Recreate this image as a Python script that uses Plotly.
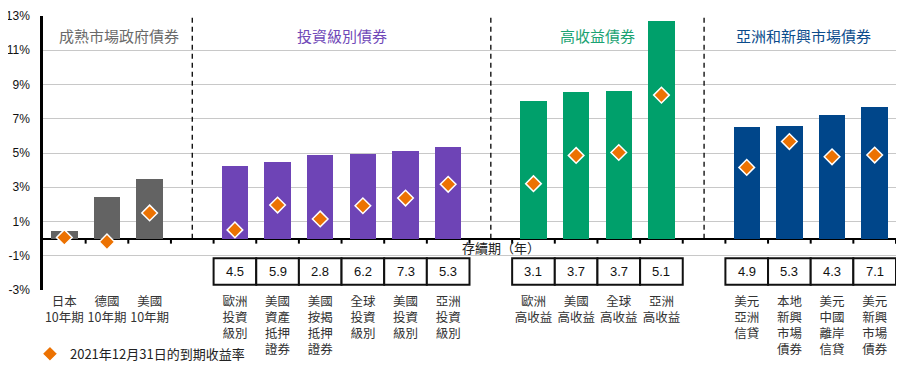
import plotly.graph_objects as go

# ---------------- data ----------------
group_titles = ["成熟市場政府債券", "投資級別債券", "高收益債券", "亞洲和新興市場債券"]
group_colors = ["#636363", "#6E44B6", "#00A06B", "#00468A"]
title_colors = ["#6A6A6A", "#7049B8", "#1AA372", "#0B4C8C"]

dm_labels = ["日本<br>10年期", "德國<br>10年期", "美國<br>10年期"]
dm_bars = [0.42, 2.41, 3.50]
dm_ytm = [0.07, -0.19, 1.50]
dm_duration = []

ig_labels = ["歐洲<br>投資<br>級別", "美國<br>資產<br>抵押<br>證券", "美國<br>按揭<br>抵押<br>證券",
             "全球<br>投資<br>級別", "美國<br>投資<br>級別", "亞洲<br>投資<br>級別"]
ig_bars = [4.22, 4.49, 4.90, 4.97, 5.13, 5.36]
ig_ytm = [0.51, 1.96, 1.15, 1.92, 2.37, 3.17]
ig_duration = ["4.5", "5.9", "2.8", "6.2", "7.3", "5.3"]

hy_labels = ["歐洲<br>高收益", "美國<br>高收益", "全球<br>高收益", "亞洲<br>高收益"]
hy_bars = [8.05, 8.57, 8.63, 12.71]
hy_ytm = [3.21, 4.86, 5.03, 8.38]
hy_duration = ["3.1", "3.7", "3.7", "5.1"]

em_labels = ["美元<br>亞洲<br>信貸", "本地<br>新興<br>市場<br>債券", "美元<br>中國<br>離岸<br>信貸", "美元<br>新興<br>市場<br>債券"]
em_bars = [6.53, 6.59, 7.23, 7.70]
em_ytm = [4.16, 5.67, 4.78, 4.88]
em_duration = ["4.9", "5.3", "4.3", "7.1"]

y_ticks = [-3, -1, 1, 3, 5, 7, 9, 11, 13]
y_tick_text = ["-3%", "-1%", "1%", "3%", "5%", "7%", "9%", "11%", "13%"]
legend_name = "2021年12月31日的到期收益率"
duration_title = "存續期（年）"

groups = [
    (dm_labels, dm_bars, dm_ytm, dm_duration),
    (ig_labels, ig_bars, ig_ytm, ig_duration),
    (hy_labels, hy_bars, hy_ytm, hy_duration),
    (em_labels, em_bars, em_ytm, em_duration),
]

# ---------------- build positions ----------------
xs, labels, bars, ytm, colors = [], [], [], [], []
gaps = []
boxes = []
pos = 0
for gi, (lab, bv, yv, dur) in enumerate(groups):
    for i in range(len(lab)):
        xs.append(pos)
        labels.append(lab[i])
        bars.append(bv[i])
        ytm.append(yv[i])
        colors.append(group_colors[gi])
        if dur:
            boxes.append((pos, dur[i]))
        pos += 1
    if gi < len(groups) - 1:
        gaps.append(pos)
        pos += 1
n_slots = pos

CJK = "Noto Sans CJK TC"

fig = go.Figure()
fig.add_trace(go.Bar(x=xs, y=bars, width=0.62, marker=dict(color=colors, line=dict(width=0)),
                     showlegend=False, hoverinfo="skip"))
fig.add_trace(go.Scatter(x=xs, y=ytm, mode="markers", name=legend_name,
                         marker=dict(symbol="diamond", size=12, color="#EC7202",
                                     line=dict(color="white", width=1.5)),
                         showlegend=True))

shapes = []
# dashed separators
for g in gaps:
    shapes.append(dict(type="line", xref="x", yref="y", x0=g, x1=g, y0=0, y1=13,
                       line=dict(color="black", width=1.3, dash="5px,4px")))
# tick marks under zero line at slot boundaries
for k in range(1, n_slots + 1):
    shapes.append(dict(type="line", xref="x", yref="y", x0=k - 0.5, x1=k - 0.5,
                       ysizemode="pixel", yanchor=0, y0=0, y1=-5,
                       line=dict(color="black", width=2)))
# duration boxes
annotations = []
for (p, d) in boxes:
    shapes.append(dict(type="rect", xref="x", yref="y", x0=p - 0.5, x1=p + 0.5, y0=-2.7, y1=-1.15,
                       line=dict(color="#111", width=2), fillcolor="white", layer="above"))
    annotations.append(dict(x=p, y=-1.93, xref="x", yref="y", text=d, showarrow=False,
                            font=dict(family="Liberation Sans", size=13, color="#111")))

# group titles
title_x = [1.28, 6.51, 12.49, 17.32]
for gi, t in enumerate(group_titles):
    annotations.append(dict(x=title_x[gi], y=11.84, xref="x", yref="y", text=t, showarrow=False,
                            font=dict(family=CJK, size=15, color=title_colors[gi])))

annotations.append(dict(x=10.24, y=-0.5, xref="x", yref="y", text=duration_title, showarrow=False,
                        font=dict(family=CJK, size=13, color="#222")))

# page body has an 8px default margin; size the figure so that the visible frame is 909x365
fig.update_layout(
    width=901, height=357,
    margin=dict(l=35, r=13, t=8, b=75, autoexpand=False),
    plot_bgcolor="white", paper_bgcolor="white",
    font=dict(family=CJK, color="#333"),
    shapes=shapes, annotations=annotations,
    legend=dict(orientation="h", x=-0.0153, xanchor="left", y=-0.233, yanchor="middle",
                font=dict(family=CJK, size=13, color="#222"), bgcolor="rgba(0,0,0,0)"),
    bargap=0,
)
fig.update_xaxes(range=[-0.5, n_slots - 0.5], tickmode="array", tickvals=xs, ticktext=labels,
                 showgrid=False, zeroline=False, showline=False, ticks="",
                 ticklabelstandoff=2,
                 tickfont=dict(family=CJK, size=12.5, color="#333"), tickangle=0)
fig.update_yaxes(range=[-3, 13], tickmode="array", tickvals=y_ticks, ticktext=y_tick_text,
                 showgrid=True, gridcolor="#C8C8C8", gridwidth=1.3,
                 zeroline=True, zerolinecolor="black", zerolinewidth=2.2,
                 showline=True, linecolor="black", linewidth=2.5, ticks="",
                 ticklabelstandoff=8,
                 tickfont=dict(family="Liberation Sans Narrow, Liberation Sans", size=12, color="#111"))

fig.write_html("out.html")
